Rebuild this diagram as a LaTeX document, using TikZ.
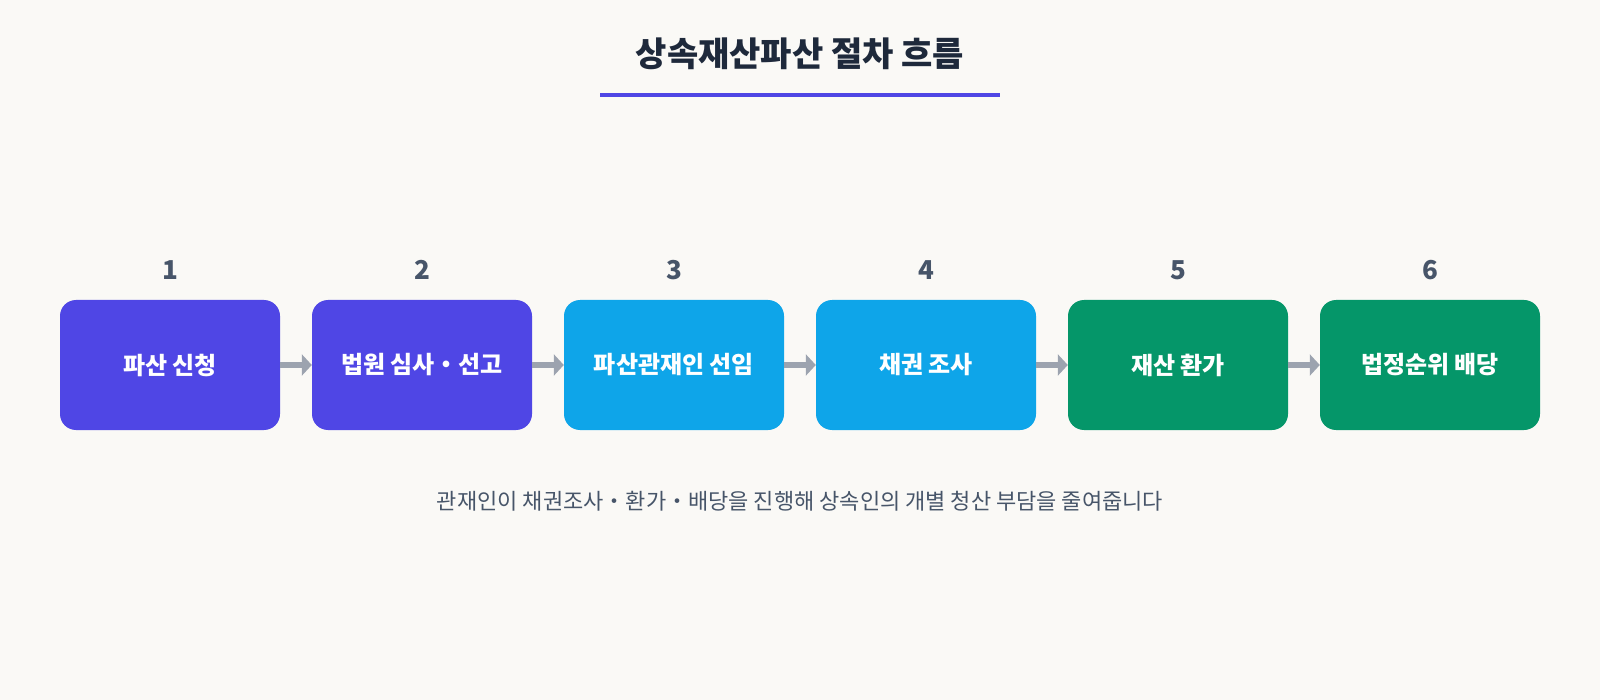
\documentclass[tikz,border=0pt]{standalone}
\usepackage{fontspec}
\setmainfont{Noto Sans CJK KR}
\usetikzlibrary{arrows.meta}
\definecolor{bgcream}{HTML}{FAF9F6}
\definecolor{stepindigo}{HTML}{4F46E5}
\definecolor{stepsky}{HTML}{0EA5E9}
\definecolor{stepgreen}{HTML}{059669}
\definecolor{arrowgray}{HTML}{9CA3AF}
\definecolor{titleink}{HTML}{1E293B}
\definecolor{numink}{HTML}{475569}

\begin{document}
\begin{tikzpicture}[x=1pt,y=-1pt,
  stepbox/.style={rounded corners=16pt,minimum width=220pt,minimum height=130pt,inner sep=0pt,text=white,font=\fontsize{24}{28}\selectfont\bfseries},
  stepnum/.style={text=numink,font=\fontsize{26}{30}\selectfont\bfseries},
  flow/.style={draw=arrowgray,line width=6pt,-{Triangle[length=10pt,width=21pt]}}]
\fill[bgcream] (0,0) rectangle (1600,700);
\useasboundingbox (0,0) rectangle (1600,700);
\node[text=titleink,font=\fontsize{34}{38}\selectfont\bfseries] (title) at (800,54) {상속재산파산 절차 흐름};
\draw[stepindigo,line width=4pt] (600,95) -- (1000,95);
\def\steplist{1/파산 신청/stepindigo,2/법원 심사・선고/stepindigo,3/파산관재인 선임/stepsky,4/채권 조사/stepsky,5/재산 환가/stepgreen,6/법정순위 배당/stepgreen}
\foreach \i/\txt/\col in \steplist{
	\node[stepbox,fill=\col] (s\i) at ({170+(\i-1)*252},365) {\txt};
	\node[stepnum] (n\i) at ({170+(\i-1)*252},270) {\i};
}
\foreach \i [evaluate=\i as \j using int(\i+1)] in {1,...,5}
	\draw[flow] (s\i.east) -- (s\j.west);
\node[text=numink,font=\fontsize{22}{26}\selectfont] (note) at (800,501) {관재인이 채권조사・환가・배당을 진행해 상속인의 개별 청산 부담을 줄여줍니다};
\end{tikzpicture}
\end{document}
